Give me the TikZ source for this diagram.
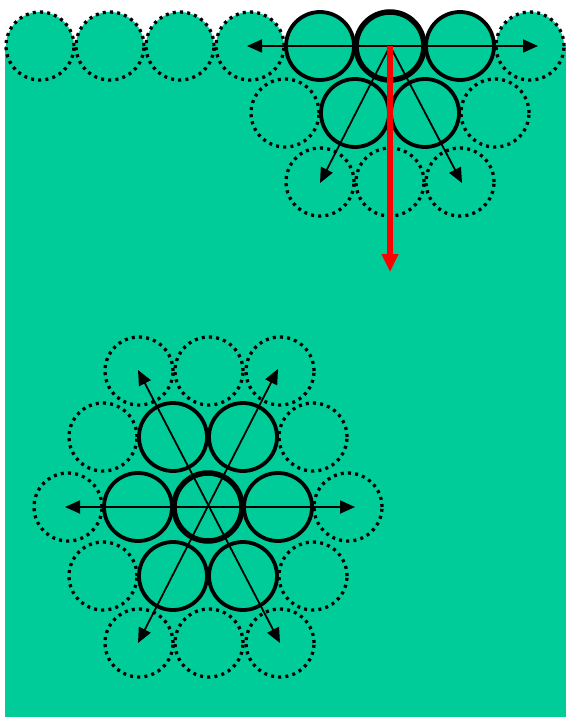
\documentclass[tikz,border=0pt]{standalone}
\usepackage{xcolor}
\usetikzlibrary{arrows.meta}
\definecolor{sea}{RGB}{0,204,153}
\tikzset{ball/.style={shape=circle,minimum size=68pt,inner sep=0pt,fill=sea,draw,line width=3.8pt},
ghost/.style={ball,line width=3.3pt,dash pattern=on 3pt off 4.2pt},
core/.style={ball,line width=5.5pt}}
\begin{document}
\begin{tikzpicture}[x=1pt,y=-1pt,>={Triangle[length=15pt,width=13pt]}]
\useasboundingbox(0,0)rectangle(566,717);
\fill[sea](5,46)rectangle(566,717);
% top layer
\foreach \x/\n in {40/1,110/2,180/3,250/4,530/8}
  \node[ghost](t\n)at(\x,46){};
\node[ghost](s1)at(285,113){};
\node[ghost](s4)at(495,113){};
\foreach \x/\n in {320/1,390/2,460/3}
  \node[ghost](u\n)at(\x,182){};
\node[ball](t5)at(320,46){};
\node[ball](t7)at(460,46){};
\node[core](t6)at(390,46){};
\node[ball](s2)at(355,113){};
\node[ball](s3)at(425,113){};
\coordinate(hl)at(247,46);
\coordinate(hr)at(538,46);
\coordinate(dl)at(320,183);
\coordinate(dr)at(462,183);
\coordinate(down)at(390,272);
\draw[<->,line width=1.8pt](hl)--(hr);
\draw[->,line width=1.8pt](t6.center)--(dl);
\draw[->,line width=1.8pt](t6.center)--(dr);
\draw[red,line width=5.5pt,-{Triangle[length=18pt,width=16pt]}](t6.center)--(down);
% bottom layer
\foreach \x/\y [count=\i] in {139/371,209/371,280/371,103/437,313/437,68/507,348/507,103/576,313/576,139/643,209/643,280/643}
  \node[ghost](g\i)at(\x,\y){};
\foreach \x/\y [count=\i] in {138/507,278/507,173/437,243/437,173/576,243/576}
  \node[ball](b\i)at(\x,\y){};
\node[core](c)at(208,507){};
\coordinate(a1)at(65,507);
\coordinate(a2)at(355,507);
\coordinate(a3)at(138,370);
\coordinate(a4)at(280,643);
\coordinate(a5)at(278,369);
\coordinate(a6)at(138,643);
\draw[<->,line width=1.8pt](a1)--(a2);
\draw[<->,line width=1.8pt](a3)--(a4);
\draw[<->,line width=1.8pt](a5)--(a6);
\end{tikzpicture}
\end{document}
